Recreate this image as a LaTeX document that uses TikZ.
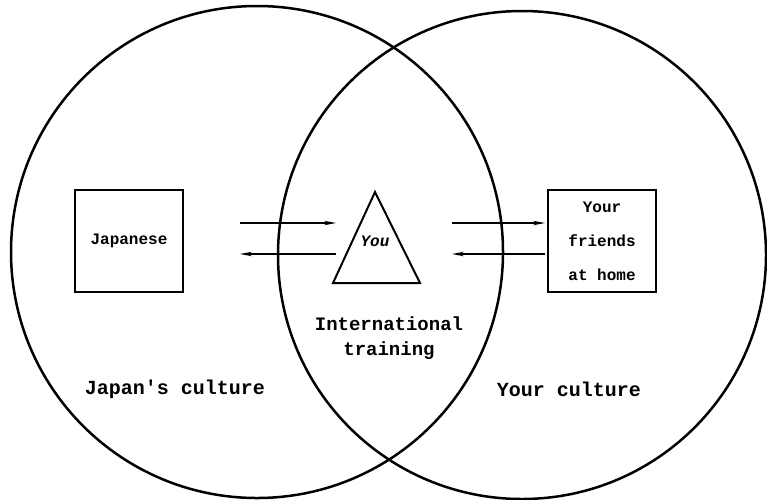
\documentclass[tikz,border=0pt]{standalone}
\usepackage{fontspec}
\setmainfont{Liberation Mono}
\usetikzlibrary{arrows.meta}
\begin{document}
\begin{tikzpicture}[x=1pt,y=-1pt,
  ring/.style={line width=2.5pt},
  box/.style={draw,line width=2pt,minimum width=108pt,minimum height=102pt,align=center,inner sep=0pt,font=\bfseries\fontsize{16}{34}\selectfont},
  lbl/.style={font=\bfseries\fontsize{19}{25}\selectfont,align=center},
  culture/.style={font=\bfseries\fontsize{20}{25}\selectfont},
  flow/.style={line width=1.2pt,-{Stealth[length=12pt,width=4.5pt]}}]
\useasboundingbox (0,0) rectangle (767,499);
\draw[ring] (257,252) circle[radius=246];
\draw[ring] (522,255) circle[radius=244];
\node[box] (jp) at (129,241) {Japanese};
\node[box] (fr) at (602,241) {Your\\friends\\at home};
\coordinate (t1) at (333,283);
\coordinate (t2) at (420,283);
\coordinate (t3) at (375,192);
\draw[line width=2pt,line join=miter] (t1) -- (t2) -- (t3) -- cycle;
\node[font=\bfseries\itshape\fontsize{16}{18}\selectfont] (you) at (375,241) {You};
\coordinate (l1s) at (240,223);
\coordinate (l1e) at (336,223);
\coordinate (l2s) at (336,254);
\coordinate (l2e) at (240,254);
\coordinate (r1s) at (452,223);
\coordinate (r1e) at (545,223);
\coordinate (r2s) at (545,254);
\coordinate (r2e) at (452,254);
\draw[flow] (l1s) -- (l1e);
\draw[flow] (l2s) -- (l2e);
\draw[flow] (r1s) -- (r1e);
\draw[flow] (r2s) -- (r2e);
\node[lbl] (it) at (389,338) {International\\training};
\node[culture] (jc) at (175,389) {Japan\textquotesingle s culture};
\node[culture] (yc) at (569,389) {Your culture};
\end{tikzpicture}
\end{document}
